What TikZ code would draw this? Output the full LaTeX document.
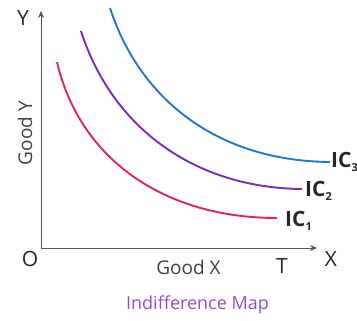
\documentclass[tikz,border=0pt]{standalone}
\usepackage{fontspec}
\setmainfont{Open Sans}
\usetikzlibrary{arrows.meta}
\definecolor{icred}{HTML}{E0245E}
\definecolor{icpurple}{HTML}{7A2DB8}
\definecolor{icblue}{HTML}{2478C6}
\definecolor{mapviolet}{HTML}{9A4CC8}
\definecolor{axisgray}{HTML}{555555}
\tikzset{
  axisline/.style={draw=axisgray, line width=0.9pt, -{Stealth[length=7pt,width=6pt]}},
  curve/.style={line width=1.9pt},
  axislbl/.style={font=\fontsize{21}{21}\selectfont\addfontfeatures{Weight=300}, text=black!85, inner sep=0pt, anchor=base},
  goodlbl/.style={font=\fontsize{19}{19}\selectfont, text=black!75, inner sep=0pt, anchor=base},
  iclbl/.style={font=\fontsize{21}{21}\selectfont\bfseries, text=black!85, inner sep=0pt, anchor=base west}
}
\newcommand{\icsub}[1]{\raisebox{-4pt}{\fontsize{11}{11}\selectfont #1}}
\begin{document}
\begin{tikzpicture}[x=1pt,y=-1pt]
\useasboundingbox (0,0) rectangle (357,321);
\coordinate (o) at (41,248);
\coordinate (ytip) at (41,11);
\coordinate (xtip) at (317,248);
\draw[axisline] (o) -- (ytip);
\draw[axisline] (o) -- (xtip);
\node[axislbl] (ylbl) at (23,26) {Y};
\node[axislbl] (olbl) at (30,267) {O};
\node[axislbl] (xlbl) at (331,267) {X};
\node[axislbl] (tlbl) at (282,274) {T};
\node[goodlbl] (gx) at (188.5,275) {Good X};
\node[goodlbl, rotate=90] (gy) at (32,133) {Good Y};
\node[font=\fontsize{18}{18}\selectfont, text=mapviolet, inner sep=0pt, anchor=base] (title) at (197.5,309) {Indifference Map};
\coordinate (r0) at (57,62);
\coordinate (r1) at (277,218);
\coordinate (p0) at (81,31);
\coordinate (p1) at (302,189);
\coordinate (b0) at (110,8);
\coordinate (b1) at (330,162);
\draw[curve, icred] (r0) .. controls (80,160) and (165,218) .. (r1);
\draw[curve, icpurple] (p0) .. controls (112,128) and (195,188) .. (p1);
\draw[curve, icblue] (b0) .. controls (140,100) and (218,161) .. (b1);
\node[iclbl] (ic1) at (285,227) {IC\icsub{1}};
\node[iclbl] (ic2) at (305,197) {IC\icsub{2}};
\node[iclbl] (ic3) at (331,168) {IC\icsub{3}};
\end{tikzpicture}
\end{document}
